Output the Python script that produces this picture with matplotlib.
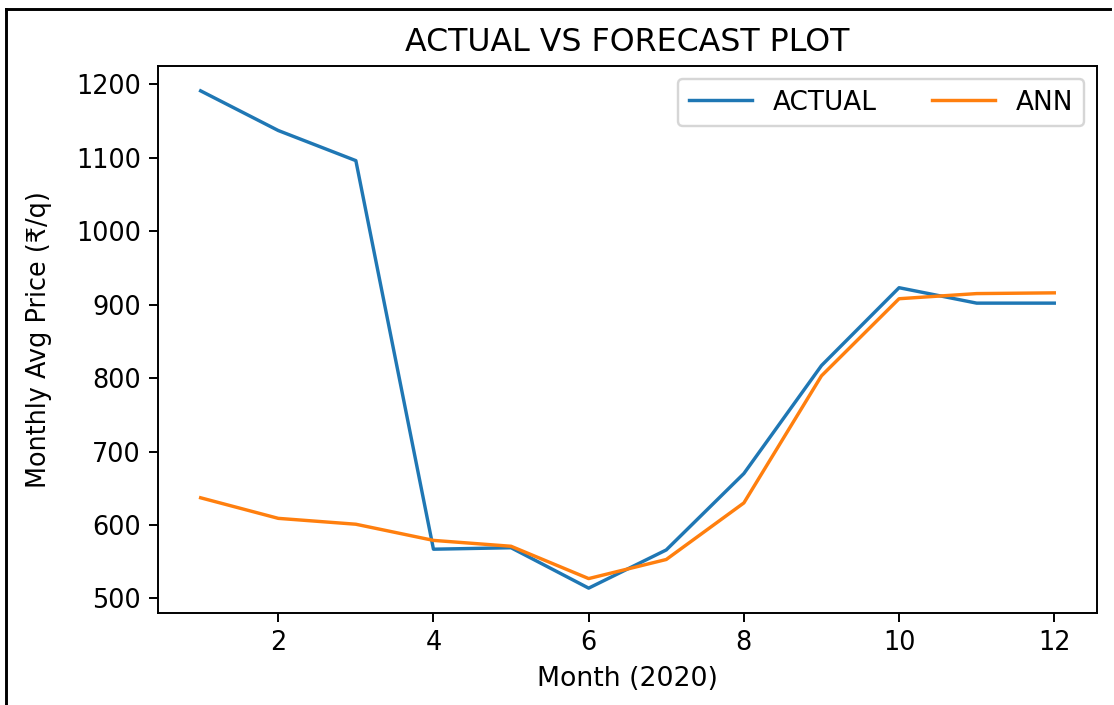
import matplotlib
matplotlib.use("Agg")
import matplotlib.pyplot as plt
from matplotlib.lines import Line2D

# monthly values
months = [1, 2, 3, 4, 5, 6, 7, 8, 9, 10, 11, 12]
actual = [1191, 1137, 1096, 567, 569, 514, 566, 670, 817, 923, 902, 902]
ann = [637, 609, 601, 579, 571, 527, 553, 630, 803, 908, 915, 916]

plt.rcParams["xtick.labelsize"] = 10.5
plt.rcParams["ytick.labelsize"] = 10.5

fig = plt.figure(figsize=(1114 / 175, 705 / 175), dpi=175)
ax = fig.add_axes([0.1418, 0.1305, 0.8429, 0.7759])

ax.plot(months, actual, label="ACTUAL", lw=1.4)
ax.plot(months, ann, label="ANN", lw=1.4)

ax.set_title("ACTUAL VS FORECAST PLOT", fontsize=13)
ax.set_xlabel("Month (2020)", fontsize=11)
ax.set_ylabel("Monthly Avg Price (₹/q)", fontsize=10.5, labelpad=10)
ax.legend(loc="upper right", ncol=2, fontsize=10.8, handlelength=2.4, columnspacing=2.1)

# black frame on left and top of the image
fig.add_artist(Line2D([6 / 1114, 6 / 1114], [0, 1 - 9 / 705], color="black", lw=1.2))
fig.add_artist(Line2D([6 / 1114, 1110 / 1114], [1 - 9 / 705, 1 - 9 / 705], color="black", lw=1.2))

fig.savefig("out.png", dpi=175)
